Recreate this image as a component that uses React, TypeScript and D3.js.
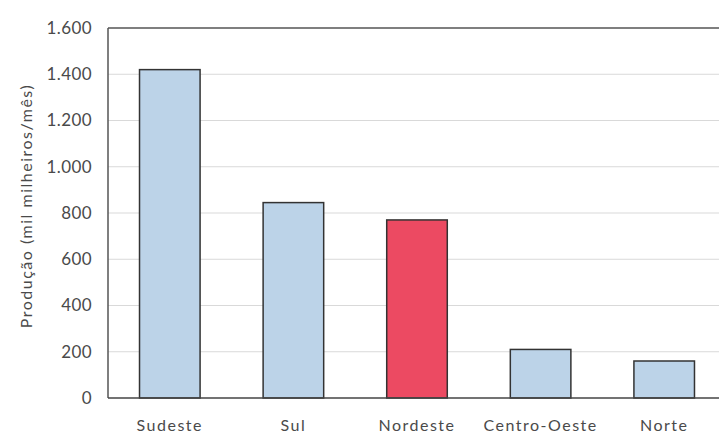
import React from "react";
import * as d3 from "d3";

const regions = ["Sudeste", "Sul", "Nordeste", "Centro-Oeste", "Norte"];
const production = [1420, 845, 770, 210, 160];
const highlighted = ["Nordeste"];
const yTicks = [0, 200, 400, 600, 800, 1000, 1200, 1400, 1600];
const yTitle = "Produção (mil milheiros/mês)";

const W = 719;
const H = 437;
const M = { left: 108, top: 28, right: -7, bottom: 38 };

const fmt = (v: number) => d3.format(",")(v).replace(/,/g, ".");

export default function App() {
  const x = d3
    .scaleBand<string>()
    .domain(regions)
    .range([M.left, W - M.right])
    .paddingInner(0.51)
    .paddingOuter(0.255);
  const y = d3.scaleLinear().domain([0, 1600]).range([H - M.bottom - 1, M.top]);
  const font = "Lato, 'Open Sans', sans-serif";
  const textColor = "#4a4a4a";

  return (
    <svg
      width={W}
      height={H}
      style={{ position: "absolute", left: 0, top: 0, background: "#fff" }}
    >
      {/* gridlines */}
      {yTicks.slice(1, -1).map((t) => (
        <line
          key={t}
          x1={M.left}
          x2={W}
          y1={y(t)}
          y2={y(t)}
          stroke="#d9d9d9"
          strokeWidth={1}
        />
      ))}
      {/* frame */}
      <line x1={M.left} x2={W} y1={y(1600)} y2={y(1600)} stroke="#555" strokeWidth={1.5} />
      <line x1={M.left} x2={M.left} y1={y(1600)} y2={y(0)} stroke="#555" strokeWidth={1.5} />
      {/* bars */}
      {regions.map((r, i) => (
        <rect
          key={r}
          x={x(r)}
          y={y(production[i])}
          width={x.bandwidth()}
          height={y(0) - y(production[i])}
          fill={highlighted.includes(r) ? "#ec4a62" : "#bcd3e8"}
          stroke="#333"
          strokeWidth={1.5}
        />
      ))}
      <line x1={M.left} x2={W} y1={y(0)} y2={y(0)} stroke="#444" strokeWidth={1.5} />
      {/* y tick labels */}
      {yTicks.map((t) => (
        <text
          key={t}
          x={92}
          y={y(t)}
          dy="0.35em"
          textAnchor="end"
          fontFamily={font}
          fontSize={17}
          letterSpacing={0.4}
          fill={textColor}
        >
          {fmt(t)}
        </text>
      ))}
      {/* x labels */}
      {regions.map((r) => (
        <text
          key={r}
          x={(x(r) ?? 0) + x.bandwidth() / 2}
          y={431}
          textAnchor="middle"
          fontFamily={font}
          fontSize={16}
          letterSpacing={1.5}
          fill={textColor}
        >
          {r}
        </text>
      ))}
      <text
        transform={`translate(32, 206) rotate(-90)`}
        textAnchor="middle"
        fontFamily={font}
        fontSize={16}
        letterSpacing={1.5}
        fill={textColor}
      >
        {yTitle}
      </text>
    </svg>
  );
}
